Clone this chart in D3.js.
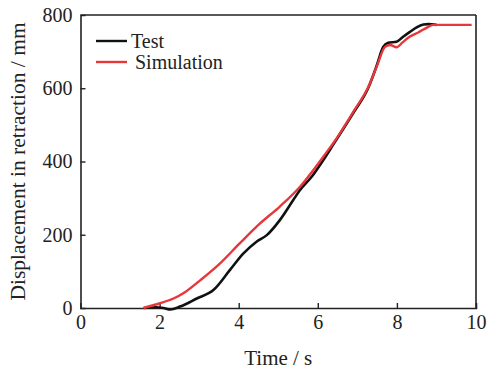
<!DOCTYPE html>
<html>
<head>
<meta charset="utf-8">
<script src="https://cdn.jsdelivr.net/npm/d3@7/dist/d3.min.js"></script>
<style>
  body { margin: 0; background: #fff; }
  text { font-family: "Liberation Serif", "DejaVu Serif", serif; fill: #222; }
</style>
</head>
<body>
<svg width="488" height="371"></svg>
<script>
const xTicks = [0, 2, 4, 6, 8, 10];
const yTicks = [0, 200, 400, 600, 800];

// Test (black)
const testTime = [1.6, 1.9, 2.1, 2.27, 2.52, 2.94, 3.36, 3.78, 4.12, 4.45, 4.71, 5.04, 5.38, 5.55, 5.85, 6.14, 6.39, 6.9, 7.28, 7.49, 7.65, 7.78, 7.99, 8.15, 8.33, 8.5, 8.67, 8.8, 9.0];
const testDisp = [0, 2, 0, -4, 4, 26, 49, 104, 149, 181, 199, 240, 295, 322, 359, 404, 446, 533, 602, 662, 712, 724, 727, 740, 754, 766, 774, 775, 773];

// Simulation (red)
const simTime = [1.59, 2.01, 2.35, 2.65, 3.03, 3.53, 4.03, 4.54, 5.04, 5.55, 5.89, 6.22, 6.39, 6.9, 7.28, 7.49, 7.7, 7.83, 7.99, 8.15, 8.33, 8.55, 8.75, 8.92, 9.3, 9.89];
const simDisp = [0, 13, 26, 44, 76, 122, 177, 231, 277, 331, 377, 425, 450, 536, 604, 659, 713, 718, 712, 726, 741, 753, 765, 773, 773, 773];

const svg = d3.select("svg");
const margin = { top: 15, right: 12, bottom: 63, left: 80.5 };
const width = 488 - margin.left - margin.right;
const height = 371 - margin.top - margin.bottom;
const serif = "'Liberation Serif', 'DejaVu Serif', serif";

const g = svg.append("g").attr("transform", `translate(${margin.left},${margin.top})`);

const x = d3.scaleLinear().domain([0, 10]).range([0, width]);
const y = d3.scaleLinear().domain([0, 800]).range([height, 0]);

// axes (ticks point inward)
const xAxis = g.append("g")
    .attr("transform", `translate(0,${height})`)
    .call(d3.axisBottom(x).tickValues(xTicks).tickSize(-5).tickPadding(7).tickFormat(d3.format("d")));
const yAxis = g.append("g")
    .call(d3.axisLeft(y).tickValues(yTicks).tickSize(-5).tickPadding(8).tickFormat(d3.format("d")));

[xAxis, yAxis].forEach(a => {
    a.attr("font-family", null).attr("font-size", null);
    a.select(".domain").attr("stroke", "#222").attr("stroke-width", 1.6);
    a.selectAll(".tick line").attr("stroke", "#222").attr("stroke-width", 1.4);
    a.selectAll(".tick text")
        .style("font-family", serif)
        .style("font-size", "20px")
        .attr("fill", "#222");
});
// no tick marks where they meet the corners
xAxis.selectAll(".tick").filter(d => d === 0 || d === 10).select("line").remove();
yAxis.selectAll(".tick").filter(d => d === 0 || d === 800).select("line").remove();

// frame top and right
g.append("line").attr("x1", 0).attr("x2", width).attr("y1", 0).attr("y2", 0)
    .attr("stroke", "#222").attr("stroke-width", 1.6);
g.append("line").attr("x1", width).attr("x2", width).attr("y1", 0).attr("y2", height)
    .attr("stroke", "#222").attr("stroke-width", 1.6);

const line = d3.line().curve(d3.curveMonotoneX);

g.append("path")
    .datum(testTime.map((t, i) => [x(t), y(testDisp[i])]))
    .attr("d", line)
    .attr("fill", "none")
    .attr("stroke", "#111")
    .attr("stroke-width", 2.6);

g.append("path")
    .datum(simTime.map((t, i) => [x(t), y(simDisp[i])]))
    .attr("d", line)
    .attr("fill", "none")
    .attr("stroke", "#e8373a")
    .attr("stroke-width", 2.4);

// legend
const legend = [
    { name: "Test", color: "#111", y: 41, tx: 131 },
    { name: "Simulation", color: "#e8373a", y: 62, tx: 135 }
];
legend.forEach(d => {
    svg.append("line")
        .attr("x1", 96).attr("x2", 127).attr("y1", d.y).attr("y2", d.y)
        .attr("stroke", d.color).attr("stroke-width", 2.4);
    svg.append("text")
        .attr("x", d.tx).attr("y", d.y + 6.5)
        .style("font-size", "20px")
        .text(d.name);
});

// axis titles
svg.append("text")
    .attr("x", margin.left + width / 2).attr("y", 365)
    .attr("text-anchor", "middle")
    .style("font-size", "21px")
    .text("Time / s");

svg.append("text")
    .attr("transform", `translate(24.5,${margin.top + height / 2}) rotate(-90)`)
    .attr("text-anchor", "middle")
    .style("font-size", "21.5px")
    .text("Displacement in retraction / mm");
</script>
</body>
</html>
